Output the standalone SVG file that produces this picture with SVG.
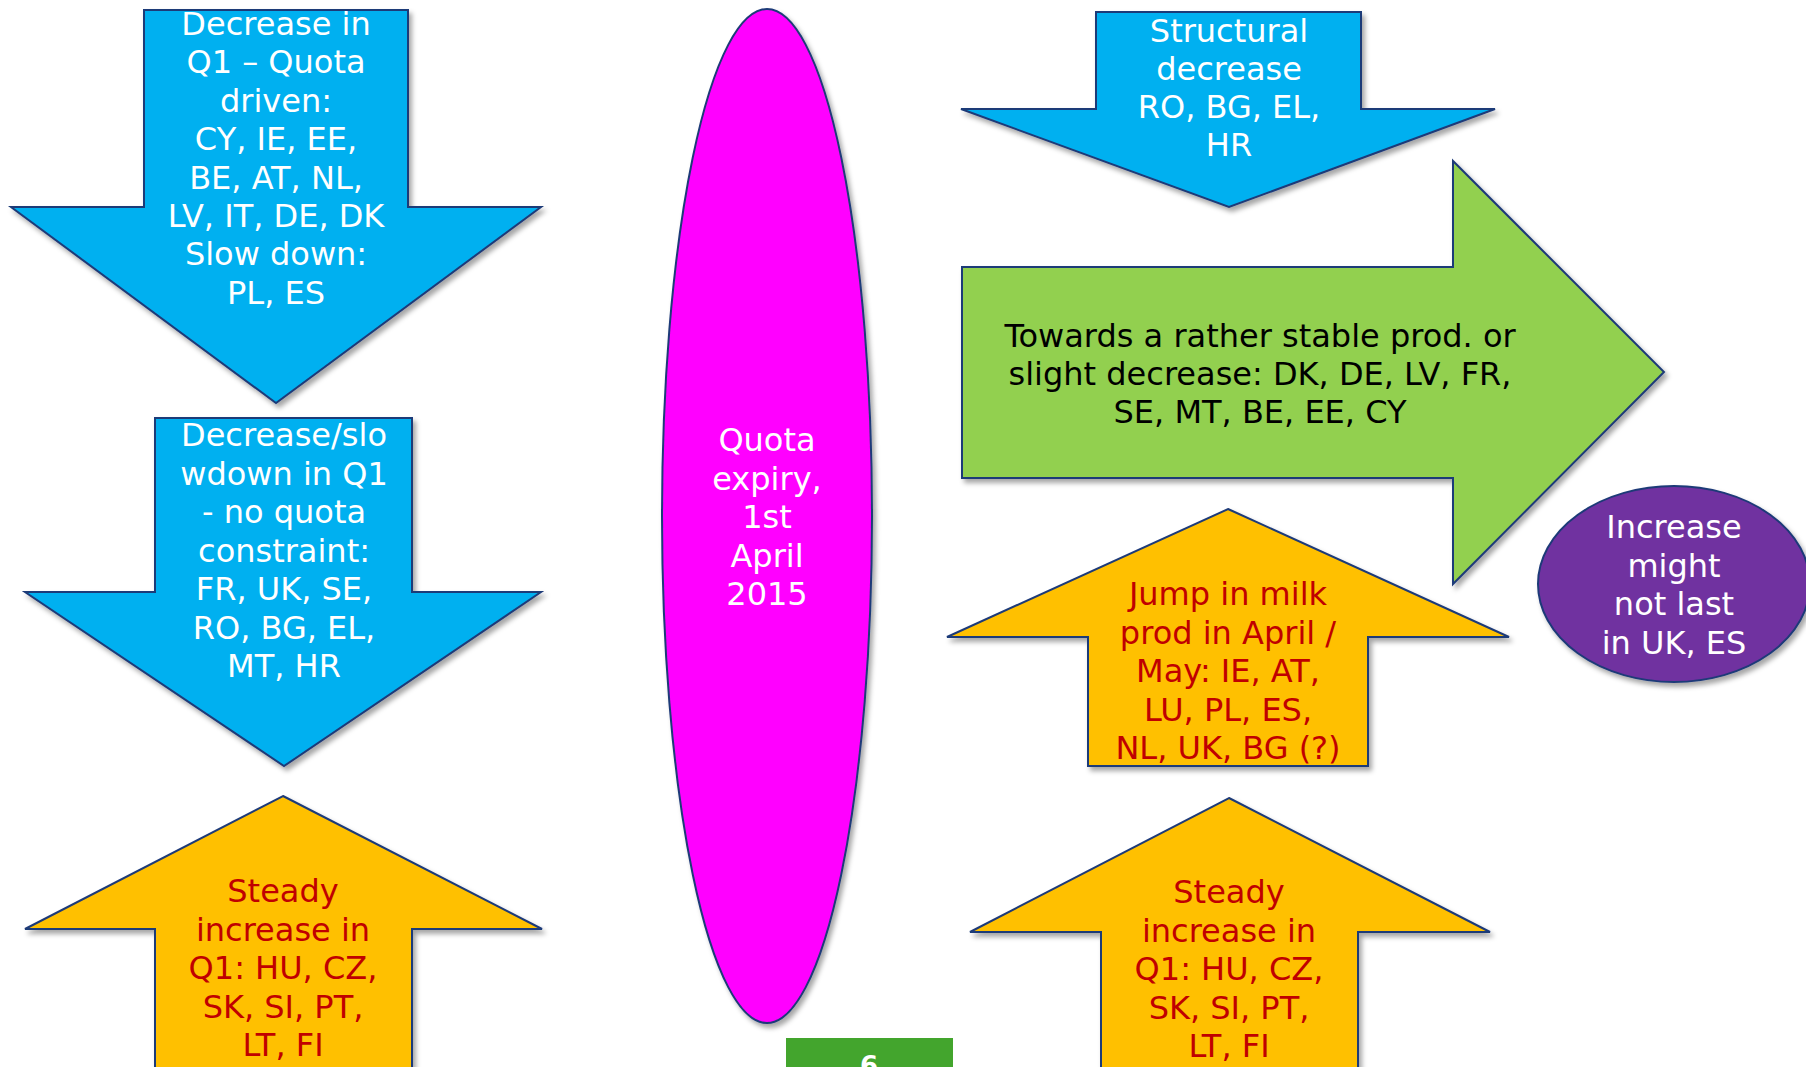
<svg xmlns="http://www.w3.org/2000/svg" width="1806" height="1067" viewBox="0 0 1806 1067">
<defs>
<filter id="sh" x="-10%" y="-10%" width="130%" height="130%">
<feDropShadow dx="3" dy="4" stdDeviation="2.5" flood-color="#000" flood-opacity="0.35"/>
</filter>
</defs>
<style>
.shape{stroke:#1F3A78;stroke-width:2;stroke-linejoin:miter;filter:url(#sh)}
.blue{fill:#00B0F0}
.yellow{fill:#FFC000}
.green{fill:#92D050}
.mag{fill:#FF00FF}
.purple{fill:#7030A0}
text{font-family:"DejaVu Sans","Liberation Sans",sans-serif;font-size:32px;text-anchor:middle}
.w{fill:#FFFFFF}
.r{fill:#C00000}
.k{fill:#000000}
</style>
<rect width="1806" height="1067" fill="#FFFFFF"/>

<g id="node-decrease-quota">
<polygon class="shape blue" points="144,10 408,10 408,207 541,207 276,403 11,207 144,207"/>
<text class="w"><tspan x="276" y="35">Decrease in</tspan><tspan x="276" y="73.4">Q1 – Quota</tspan><tspan x="276" y="111.8">driven:</tspan><tspan x="276" y="150.2">CY, IE, EE,</tspan><tspan x="276" y="188.6">BE, AT, NL,</tspan><tspan x="276" y="227">LV, IT, DE, DK</tspan><tspan x="276" y="265.4">Slow down:</tspan><tspan x="276" y="303.8">PL, ES</tspan></text>
</g>

<g id="node-decrease-noquota">
<polygon class="shape blue" points="155,418 412,418 412,592 541,592 284,766 25,592 155,592"/>
<text class="w"><tspan x="284" y="446">Decrease/slo</tspan><tspan x="284" y="484.5">wdown in Q1</tspan><tspan x="284" y="523">- no quota</tspan><tspan x="284" y="561.5">constraint:</tspan><tspan x="284" y="600">FR, UK, SE,</tspan><tspan x="284" y="638.5">RO, BG, EL,</tspan><tspan x="284" y="677">MT, HR</tspan></text>
</g>

<g id="node-steady-left">
<polygon class="shape yellow" points="283,796 542,929 412,929 412,1085 155,1085 155,929 25,929"/>
<text class="r"><tspan x="283" y="902">Steady</tspan><tspan x="283" y="940.5">increase in</tspan><tspan x="283" y="979">Q1: HU, CZ,</tspan><tspan x="283" y="1017.5">SK, SI, PT,</tspan><tspan x="283" y="1056">LT, FI</tspan></text>
</g>

<g id="node-quota-expiry">
<ellipse class="shape mag" cx="767" cy="516" rx="105" ry="507"/>
<text class="w"><tspan x="767" y="451">Quota</tspan><tspan x="767" y="489.5">expiry,</tspan><tspan x="767" y="528">1st</tspan><tspan x="767" y="566.5">April</tspan><tspan x="767" y="605">2015</tspan></text>
</g>

<g id="node-structural">
<polygon class="shape blue" points="1096,12 1361,12 1361,109 1495,109 1229,207 961,109 1096,109"/>
<text class="w"><tspan x="1229" y="42">Structural</tspan><tspan x="1229" y="80">decrease</tspan><tspan x="1229" y="118">RO, BG, EL,</tspan><tspan x="1229" y="156">HR</tspan></text>
</g>

<g id="node-stable">
<polygon class="shape green" points="962,267 1453,267 1453,161 1664,372 1453,584 1453,478 962,478"/>
<text class="k"><tspan x="1260" y="347">Towards a rather stable prod. or</tspan><tspan x="1260" y="385">slight decrease: DK, DE, LV, FR,</tspan><tspan x="1260" y="423">SE, MT, BE, EE, CY</tspan></text>
</g>

<g id="node-jump">
<polygon class="shape yellow" points="1228,509 1509,637 1368,637 1368,766 1088,766 1088,637 947,637"/>
<text class="r"><tspan x="1228" y="605">Jump in milk</tspan><tspan x="1228" y="643.5">prod in April /</tspan><tspan x="1228" y="682">May: IE, AT,</tspan><tspan x="1228" y="720.5">LU, PL, ES,</tspan><tspan x="1228" y="759">NL, UK, BG (?)</tspan></text>
</g>

<g id="node-steady-right">
<polygon class="shape yellow" points="1229,798 1490,932 1358,932 1358,1085 1101,1085 1101,932 970,932"/>
<text class="r"><tspan x="1229" y="903">Steady</tspan><tspan x="1229" y="941.5">increase in</tspan><tspan x="1229" y="980">Q1: HU, CZ,</tspan><tspan x="1229" y="1018.5">SK, SI, PT,</tspan><tspan x="1229" y="1057">LT, FI</tspan></text>
</g>

<g id="node-might-not-last">
<ellipse class="shape purple" cx="1674" cy="584" rx="136" ry="98"/>
<text class="w"><tspan x="1674" y="538">Increase</tspan><tspan x="1674" y="576.5">might</tspan><tspan x="1674" y="615">not last</tspan><tspan x="1674" y="653.5">in UK, ES</tspan></text>
</g>

<g id="node-page">
<rect x="786" y="1038" width="167" height="40" fill="#43A52D"/>
<text x="869" y="1075" style="font-size:26px;font-weight:bold;fill:#FFFFFF">6</text>
</g>
</svg>
